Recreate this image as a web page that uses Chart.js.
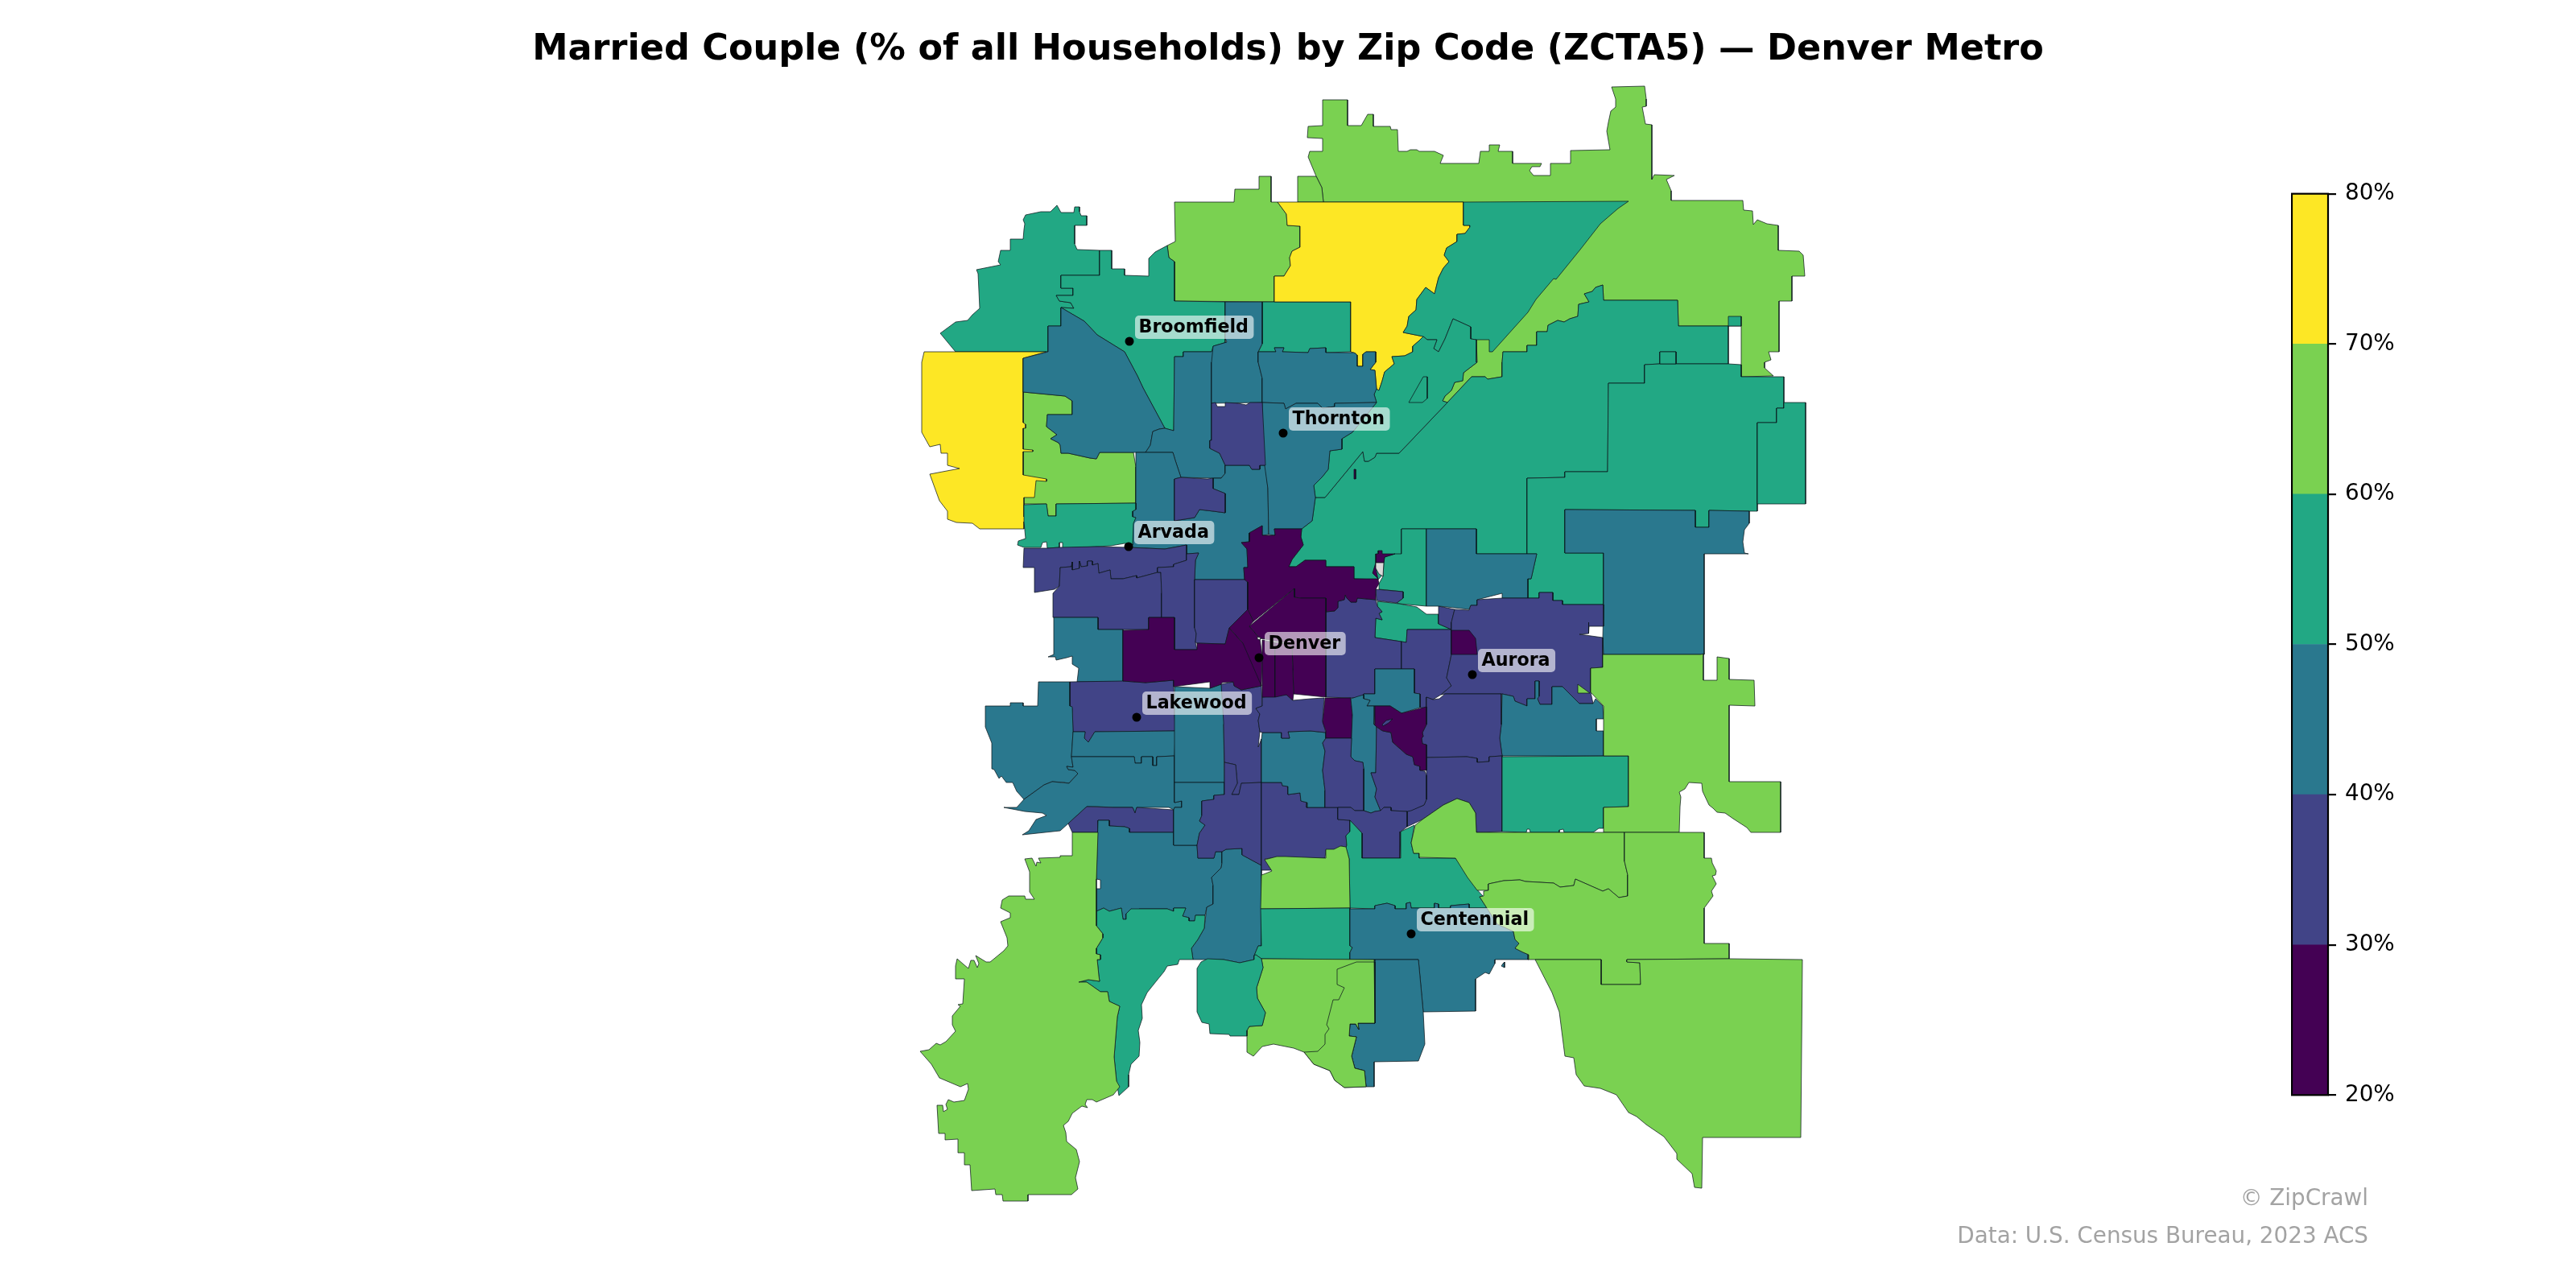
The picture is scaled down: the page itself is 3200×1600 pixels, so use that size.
<!DOCTYPE html>
<html><head><meta charset="utf-8">
<style>html,body{margin:0;padding:0;background:#fff;width:3200px;height:1600px;overflow:hidden}
canvas{position:absolute;display:block}</style>
<script src="https://cdn.jsdelivr.net/npm/chart.js@4"></script></head>
<body><canvas id="map" width="3200" height="1600" style="left:0;top:0;width:3200px;height:1600px"></canvas>
<canvas id="bar" width="200" height="1175" style="left:2846px;top:213px;width:200px;height:1175px"></canvas>
<script>
const titleText='Married Couple (% of all Households) by Zip Code (ZCTA5) — Denver Metro';
const creditLines=['© ZipCrawl','Data: U.S. Census Bureau, 2023 ACS'];
const binEdges=[20,30,40,50,60,70,80];
const binColors=['#440154','#414487','#2a788e','#22a884','#7ad151','#fde725'];
const cityNames=['Broomfield','Thornton','Arvada','Denver','Lakewood','Aurora','Centennial'];
const cityX=[1403,1594,1402,1564,1412,1829,1753];
const cityY=[424,538,679,817,891,838,1160];

/* zone outlines, in map units: x,y,x,y,... */
const northLime=[1644,251,1642,233,1635,219,1625,195,1627,188,1643,188,1643,172,1624,171,1625,157,1643,156,1643,124,1674,124,1674,156,1691,156,1699,142,1706,142,1706,157,1727,157,1728,161,1736,161,1737,188,1748,188,1752,186,1760,186,1763,188,1782,188,1793,193,1789,203,1837,203,1839,188,1850,188,1850,180,1863,180,1861,188,1879,188,1879,203,1915,203,1913,207,1903,207,1900,212,1905,218,1926,218,1926,203,1951,203,1951,187,2000,186,1996,163,1998,152,2001,138,2007,133,2007,123,2002,108,2043,107,2045,123,2045,132,2040,133,2044,154,2052,155,2052,223,2055,217,2080,218,2070,223,2076,237,2076,249,2165,249,2166,261,2177,262,2178,279,2183,273,2195,278,2209,280,2209,311,2235,312,2240,317,2242,343,2226,343,2226,374,2210,374,2210,437,2197,437,2200,447,2192,450,2192,457,2203,467,2163,468,2163,405,2147,405,2085,405,2084,373,1992,373,1991,354,1982,357,1978,362,1968,365,1974,375,1961,378,1960,393,1950,396,1943,400,1935,398,1923,404,1922,412,1909,412,1909,429,1897,429,1897,437,1880,437,1867,437,1866,450,1866,468,1848,471,1845,468,1828,468,1798,500,1792,498,1795,492,1803,485,1807,475,1817,473,1818,463,1835,450,1834,422,1830,270,1818,251];
const upperWestLime=[1459,251,1533,251,1534,235,1564,235,1564,219,1579,219,1579,251,1587,251,1598,266,1599,280,1615,281,1615,307,1605,312,1602,320,1603,330,1595,343,1583,343,1583,375,1459,374,1459,325,1452,320,1450,305,1460,300];
const smallLime=[1612,219,1635,219,1642,233,1644,251,1612,251];
const westLime=[1271,487,1323,492,1332,498,1332,515,1301,515,1300,530,1313,540,1305,545,1315,550,1317,553,1318,563,1327,563,1354,569,1362,570,1366,562,1408,562,1411,580,1411,625,1312,626,1312,641,1302,641,1300,626,1271,626];
const nwWest=[1168,414,1183,403,1187,400,1202,398,1208,391,1217,383,1215,340,1213,335,1243,329,1240,325,1243,311,1255,311,1255,297,1271,297,1272,285,1273,278,1271,273,1274,267,1293,263,1305,263,1313,255,1318,264,1334,264,1335,257,1341,257,1341,263,1343,268,1350,268,1350,280,1335,280,1335,303,1338,310,1366,311,1366,342,1318,342,1318,358,1333,358,1333,367,1312,367,1316,374,1330,376,1334,383,1318,382,1318,405,1302,405,1302,437,1187,437];
const nwEast=[1366,311,1381,311,1381,334,1397,334,1397,342,1427,343,1427,321,1435,313,1450,305,1452,320,1459,325,1459,374,1522,375,1522,437,1470,437,1470,443,1459,443,1458,535,1447,532,1420,482,1413,467,1397,437,1363,416,1347,399,1318,382,1334,383,1330,376,1316,374,1312,367,1333,367,1333,358,1318,358,1318,342,1366,342];
const eastStrip=[1568,375,1678,375,1678,437,1647,438,1647,432,1627,433,1625,438,1593,437,1595,432,1583,432,1585,437,1563,437,1568,427];
const westYellow=[1148,437,1300,437,1271,445,1271,525,1274,527,1274,532,1271,532,1271,558,1283,559,1283,561,1271,561,1271,590,1300,595,1300,598,1287,597,1285,618,1272,618,1272,642,1282,639,1272,648,1272,657,1217,657,1208,650,1188,649,1177,645,1177,635,1167,622,1155,589,1192,582,1177,578,1177,563,1169,563,1168,552,1155,555,1145,537,1145,450];
const mainYellow=[1587,251,1818,251,1818,280,1826,280,1826,282,1820,290,1810,291,1810,300,1797,308,1794,317,1800,325,1793,333,1787,345,1782,365,1771,357,1760,372,1759,385,1750,393,1748,405,1743,413,1768,418,1762,424,1755,430,1755,437,1745,442,1729,443,1732,452,1720,462,1717,473,1713,485,1710,483,1708,460,1702,459,1709,450,1709,437,1697,437,1693,440,1693,455,1686,455,1684,439,1678,437,1678,375,1583,375,1583,343,1595,343,1603,330,1602,320,1605,312,1615,307,1615,281,1599,280,1598,266];
const neWedge=[1818,251,2023,250,2010,259,1988,278,1963,310,1933,347,1930,346,1908,372,1898,388,1880,408,1854,437,1850,437,1850,422,1834,422,1827,421,1827,406,1805,396,1795,421,1787,437,1781,433,1785,422,1773,422,1768,418,1743,413,1748,405,1750,393,1759,385,1760,372,1771,357,1782,365,1787,345,1793,333,1800,325,1794,317,1797,308,1810,300,1810,291,1820,290,1826,282,1826,280,1818,280];
const commerceGreen=[1634,618,1632,603,1642,593,1650,583,1652,560,1667,558,1667,545,1680,537,1690,525,1710,500,1707,490,1709,483,1713,485,1717,473,1720,462,1732,452,1729,443,1745,442,1755,437,1755,430,1762,424,1768,418,1773,422,1785,422,1781,433,1787,437,1795,421,1805,396,1827,406,1827,421,1834,422,1834,450,1835,450,1818,463,1817,473,1807,475,1803,485,1795,492,1792,498,1798,500,1738,563,1710,563,1708,568,1700,573,1695,573,1693,561,1646,618];
const plainsGreen=[1646,618,1693,561,1695,573,1700,573,1708,568,1710,563,1738,563,1798,500,1828,468,1845,468,1848,471,1866,468,1866,450,1867,437,1897,437,1897,429,1909,429,1909,412,1922,412,1923,404,1935,398,1943,400,1950,396,1960,393,1961,378,1974,375,1968,365,1978,362,1982,357,1991,354,1992,373,2084,373,2085,405,2147,405,2147,452,2082,452,2082,437,2062,437,2062,452,2043,453,2043,476,1998,476,1997,586,1944,586,1944,593,1897,594,1897,688,1834,688,1834,657,1741,657,1741,688,1712,720,1682,719,1682,704,1647,704,1647,696,1621,696,1610,704,1601,704,1605,695,1619,677,1616,667,1617,657,1630,647,1634,618];
const farEastGreen=[1998,476,2043,476,2043,453,2062,452,2082,452,2147,452,2163,453,2163,468,2216,468,2216,507,2207,507,2207,525,2183,525,2183,635,2173,635,2123,634,2123,655,2106,655,2106,634,1944,633,1944,687,1992,687,1992,751,1941,751,1941,746,1929,746,1929,736,1912,736,1912,743,1898,743,1898,719,1902,719,1909,688,1897,688,1897,594,1944,593,1944,586,1997,586];
const rimGreen=[2216,500,2243,500,2243,626,2183,626,2183,525,2207,525,2207,507,2216,507];
const squareGreen=[2147,393,2163,393,2163,405,2147,405];
const boxGreen=[2062,437,2082,437,2082,452,2062,452];
const isletGreen=[1750,500,1768,468,1773,468,1773,495,1767,500];
const midEastGreen=[1741,657,1772,657,1772,753,1738,750,1735,749,1743,743,1743,735,1713,732,1713,725,1718,716,1719,699,1720,692,1733,688,1741,688];
const parkGreen=[1711,747,1738,750,1760,754,1772,763,1787,763,1787,775,1803,782,1748,782,1747,798,1708,792,1709,768,1717,770,1713,762,1717,760,1711,753];
const westBlue=[1271,445,1302,437,1302,405,1318,405,1318,382,1347,399,1363,416,1397,437,1413,467,1420,482,1447,532,1440,533,1432,536,1429,553,1423,562,1366,562,1362,570,1354,569,1327,563,1318,563,1317,553,1315,550,1305,545,1313,540,1300,530,1301,515,1332,515,1332,498,1323,492,1271,487];
const nwBlueA=[1459,443,1470,443,1470,437,1505,437,1507,430,1524,425,1505,450,1505,547,1503,547,1503,557,1515,563,1522,578,1522,588,1517,594,1507,594,1467,593,1460,572,1457,562,1423,562,1429,553,1432,536,1440,533,1447,532,1458,535];
const arvadaEastBlue=[1411,562,1457,562,1460,572,1467,593,1459,595,1459,647,1484,643,1490,633,1507,635,1522,637,1522,613,1507,607,1507,594,1517,594,1522,588,1522,578,1552,578,1555,583,1565,583,1565,578,1572,578,1575,607,1576,664,1568,665,1568,653,1552,662,1552,673,1542,674,1549,682,1550,705,1545,705,1546,720,1484,720,1485,696,1489,687,1474,688,1474,677,1447,682,1402,680,1407,677,1407,650,1411,643,1407,642,1407,635,1411,633];
const nwBlueB=[1522,375,1568,375,1568,427,1563,437,1563,450,1568,470,1568,500,1505,501,1505,450,1507,430,1524,425,1522,420];
const thorntonNorth=[1563,437,1585,437,1583,432,1595,432,1593,437,1625,438,1627,433,1647,432,1647,438,1682,438,1686,441,1686,455,1693,455,1693,440,1697,437,1709,437,1709,450,1702,459,1708,460,1710,483,1707,490,1710,500,1658,501,1658,505,1643,507,1637,501,1610,501,1597,508,1595,501,1568,500,1568,470,1563,450];
const thorntonSouth=[1568,500,1595,501,1597,508,1610,501,1637,501,1643,507,1658,505,1658,501,1710,500,1690,525,1680,537,1667,545,1667,558,1652,560,1650,583,1642,593,1632,603,1634,618,1630,647,1617,657,1583,657,1584,665,1576,664,1575,607,1568,557];
const thorntonPurple=[1505,501,1510,500,1512,505,1522,505,1522,500,1538,501,1548,503,1553,500,1568,500,1572,578,1565,578,1565,583,1555,583,1552,578,1522,578,1515,563,1503,557,1503,547,1505,547];
const westminsterPurple=[1459,595,1467,593,1500,595,1507,594,1507,607,1522,613,1522,637,1507,635,1490,633,1484,643,1459,647];
const arvadaGreen=[1272,627,1300,626,1302,641,1312,641,1312,626,1411,625,1411,633,1407,635,1407,642,1411,643,1408,650,1407,677,1397,675,1380,678,1363,679,1320,681,1320,674,1316,674,1316,680,1301,681,1300,673,1295,674,1293,680,1272,680,1264,677,1265,672,1274,669,1272,648];
const wheatRidgeA=[1272,681,1301,681,1316,680,1363,679,1402,680,1447,682,1474,677,1474,696,1458,701,1458,704,1438,705,1438,711,1412,718,1412,715,1395,719,1380,719,1379,708,1365,712,1364,700,1357,702,1357,697,1351,697,1351,703,1343,704,1341,697,1341,706,1332,708,1332,698,1331,704,1317,705,1316,728,1310,732,1285,736,1285,705,1271,705];
const wheatRidgeB=[1317,705,1331,704,1332,698,1332,708,1341,706,1341,697,1343,704,1351,703,1351,697,1357,697,1357,702,1364,700,1365,712,1379,708,1380,719,1395,719,1412,715,1412,718,1438,711,1442,711,1443,737,1443,767,1427,767,1427,782,1364,782,1364,767,1308,767,1308,737,1316,728];
const edgewaterPurple=[1438,711,1438,705,1458,704,1458,701,1474,696,1474,688,1489,687,1485,696,1484,720,1484,780,1486,787,1485,798,1487,807,1459,807,1459,767,1443,767,1443,737,1442,711];
const highlandsPurple=[1484,720,1546,720,1550,723,1550,757,1527,780,1522,800,1487,799,1485,798,1486,787,1484,780];
const northDark=[1568,653,1552,662,1552,673,1542,674,1549,682,1550,705,1545,705,1546,720,1550,723,1550,757,1557,772,1608,731,1608,742,1616,743,1647,743,1647,760,1658,759,1662,755,1662,747,1670,745,1671,739,1673,743,1678,748,1685,748,1686,743,1709,745,1709,732,1713,725,1712,720,1709,706,1709,699,1719,699,1720,692,1733,688,1717,688,1717,684,1712,684,1712,688,1709,688,1709,699,1705,712,1712,719,1682,719,1682,704,1647,704,1647,696,1621,696,1610,704,1601,704,1605,695,1619,677,1616,667,1617,657,1583,657,1584,665,1568,665];
const noDataNotch=[1709,699,1719,699,1718,716,1713,713,1709,706];
const westDark=[1395,783,1427,782,1427,767,1459,767,1459,807,1487,807,1487,799,1522,800,1527,780,1544,799,1560,815,1567,852,1542,857,1533,852,1532,847,1518,848,1517,850,1503,855,1503,847,1458,853,1458,845,1423,848,1395,846];
const triangleDark=[1527,780,1550,757,1557,772,1552,778,1565,793,1568,815,1567,852,1544,799];
const centerDark=[1552,778,1608,731,1608,742,1616,743,1647,743,1647,866,1607,862,1605,800,1565,793];
const stripDarkA=[1568,795,1584,798,1584,866,1568,866];
const stripDarkB=[1584,798,1605,800,1607,862,1606,870,1598,863,1584,866];
const capitolPurple=[1647,760,1658,759,1662,755,1662,747,1670,745,1671,739,1673,743,1678,748,1685,748,1686,743,1709,745,1711,753,1717,760,1713,762,1717,770,1709,768,1708,792,1741,797,1741,831,1708,831,1708,862,1694,862,1694,867,1678,867,1647,866];
const lowryPurple=[1741,797,1747,798,1748,782,1803,782,1803,813,1797,842,1803,852,1790,863,1780,869,1772,866,1772,880,1764,879,1764,862,1757,861,1757,831,1741,831];
const smallPurple=[1709,732,1743,735,1743,743,1735,749,1710,746];
const stapletonPurple=[1787,753,1807,757,1803,773,1803,782,1787,775];
const auroraPurple=[1803,773,1807,757,1825,758,1827,752,1835,752,1835,745,1866,743,1898,743,1912,743,1912,736,1929,736,1929,746,1941,746,1941,751,1992,751,1992,778,1974,778,1974,773,1973,787,1962,788,1991,792,1991,829,1976,830,1976,860,1979,874,1962,874,1941,853,1928,853,1928,875,1913,875,1910,868,1912,846,1907,846,1907,868,1897,868,1897,877,1882,871,1880,865,1866,862,1795,862,1790,863,1803,852,1797,842,1803,813,1803,782];
const auroraDark=[1803,783,1825,783,1833,793,1835,813,1803,813];
const auroraBlue=[1772,657,1834,657,1834,688,1909,688,1902,719,1898,719,1898,743,1866,743,1866,737,1835,745,1835,752,1827,752,1825,757,1788,753,1772,753];
const farAuroraBlue=[1944,633,2106,634,2106,655,2123,655,2123,634,2173,635,2173,650,2167,658,2165,673,2167,687,2172,688,2117,688,2117,813,1992,813,1991,792,1992,751,1992,687,1944,687];
const southAuroraBlue=[1866,862,1880,865,1882,871,1897,877,1897,868,1907,868,1907,846,1912,846,1912,865,1910,868,1913,875,1928,875,1928,853,1941,853,1962,874,1979,874,1982,868,1991,877,1992,893,1983,893,1983,908,1992,908,1992,939,1866,939,1863,917,1865,900];
const eastBlockGreen=[1866,940,2023,939,2023,1002,1992,1003,1992,1029,1986,1029,1979,1034,1943,1034,1942,1030,1937,1031,1937,1034,1901,1034,1900,1030,1897,1030,1896,1034,1866,1033];
const eastLime=[1991,813,2113,813,2116,812,2116,845,2133,845,2133,816,2148,818,2148,844,2179,845,2180,877,2148,876,2148,971,2212,971,2212,1034,2175,1034,2170,1028,2153,1017,2143,1010,2133,1009,2128,1004,2123,1000,2115,983,2114,973,2098,972,2093,980,2086,984,2088,990,2087,1002,2086,1034,1992,1034,1992,1003,2023,1002,2023,939,1992,939,1992,877,1976,860,1976,830,1991,829];
const limeWedge=[1960,850,1975,861,1960,861];
const lakewoodPurple=[1329,847,1395,846,1423,848,1458,845,1458,853,1459,885,1460,908,1360,909,1352,922,1347,917,1348,909,1333,909,1332,880,1329,877];
const golden=[1309,767,1364,767,1364,782,1395,782,1395,847,1338,847,1340,830,1332,825,1332,815,1325,817,1312,820,1311,816,1302,816,1309,813];
const swBlue=[1290,847,1329,847,1329,877,1332,878,1333,909,1331,940,1333,953,1325,952,1327,956,1335,957,1339,961,1328,973,1322,972,1307,971,1297,975,1272,993,1263,983,1258,972,1250,972,1244,964,1241,967,1235,956,1232,955,1232,923,1224,903,1224,877,1255,877,1255,873,1271,873,1271,877,1289,877];
const stripBlueA=[1333,909,1348,909,1347,917,1352,922,1360,909,1460,908,1459,939,1437,940,1437,951,1432,951,1432,940,1418,940,1418,948,1410,948,1409,940,1331,940];
const stripBlueB=[1331,940,1409,940,1410,948,1418,948,1418,940,1432,940,1432,951,1437,951,1437,940,1459,939,1459,997,1468,995,1468,1003,1459,1003,1458,1006,1452,1003,1412,1003,1410,1010,1407,1003,1383,1003,1363,1002,1350,1002,1327,1023,1317,1032,1270,1037,1278,1032,1287,1018,1300,1013,1295,1010,1273,1008,1247,1003,1263,1003,1272,993,1297,975,1307,971,1328,973,1339,961,1335,957,1327,956,1325,952,1333,953];
const bandPurple=[1350,1002,1383,1003,1407,1003,1410,1010,1412,1003,1458,1006,1458,1034,1403,1034,1403,1029,1397,1027,1378,1026,1378,1019,1364,1019,1364,1034,1332,1034,1327,1023];
const ridgeBlue=[1364,1019,1378,1019,1378,1026,1397,1027,1403,1029,1403,1034,1458,1034,1458,1050,1487,1050,1488,1066,1508,1066,1510,1058,1518,1058,1518,1072,1517,1078,1505,1090,1507,1100,1507,1123,1499,1127,1497,1137,1485,1137,1484,1144,1477,1144,1477,1140,1469,1138,1473,1128,1458,1128,1458,1132,1450,1129,1415,1129,1413,1133,1405,1129,1399,1135,1399,1142,1395,1142,1393,1128,1378,1132,1371,1128,1362,1132,1362,1104,1367,1104,1367,1093,1362,1092];
const littletonBlue=[1499,1127,1507,1123,1507,1100,1505,1090,1517,1078,1518,1072,1518,1058,1523,1055,1543,1054,1543,1062,1567,1075,1567,1175,1563,1175,1558,1187,1558,1192,1540,1196,1520,1192,1482,1192,1480,1178,1488,1167,1496,1153];
const upperEastBlue=[1459,853,1503,855,1517,850,1520,860,1522,897,1520,900,1521,972,1459,972];
const lowerEastBlue=[1459,972,1521,972,1521,987,1508,988,1508,993,1493,995,1493,1013,1490,1020,1497,1025,1490,1035,1487,1050,1458,1050,1458,1006,1459,1003,1468,1003,1468,995,1459,997];
const columnPurple=[1517,850,1532,847,1533,852,1542,857,1567,852,1568,877,1560,880,1565,887,1563,895,1565,909,1563,928,1567,918,1567,972,1542,973,1539,987,1530,987,1537,973,1535,950,1521,947,1520,897];
const lowerColumnPurple=[1521,947,1535,950,1537,973,1530,987,1539,987,1542,973,1567,972,1567,1075,1543,1062,1543,1054,1523,1055,1518,1058,1510,1058,1508,1066,1488,1066,1487,1050,1490,1035,1497,1025,1490,1020,1493,1013,1493,995,1508,993,1508,988,1521,987];
const englewoodPurple=[1567,972,1592,972,1593,976,1600,977,1600,987,1615,985,1616,995,1624,997,1623,1003,1662,1003,1662,1018,1677,1019,1677,1033,1672,1038,1673,1050,1672,1053,1667,1051,1657,1056,1647,1056,1646,1066,1597,1066,1586,1065,1571,1067,1580,1081,1567,1081,1567,1075];
const centralBlue=[1568,910,1592,910,1592,917,1602,917,1600,909,1628,908,1647,910,1647,917,1643,923,1646,933,1643,957,1646,982,1646,1003,1623,1003,1624,997,1616,995,1615,985,1600,987,1600,977,1593,976,1592,972,1567,972,1567,918];
const bandPurpleB=[1568,866,1598,863,1606,870,1628,868,1645,867,1643,895,1647,910,1628,908,1600,909,1602,917,1592,917,1592,910,1568,910,1565,909,1563,895,1565,887,1560,880,1568,877];
const blockDark=[1646,867,1678,867,1680,888,1679,917,1647,917,1647,908,1643,897];
const slimBlue=[1678,868,1687,865,1694,863,1694,868,1702,870,1698,877,1708,877,1707,900,1710,903,1709,960,1703,960,1710,980,1708,990,1715,1007,1708,1008,1703,1010,1694,1007,1694,955,1693,947,1683,945,1678,940,1680,888];
const slimPurple=[1647,917,1679,917,1678,940,1683,945,1693,947,1694,955,1694,1007,1683,1007,1678,1003,1662,1003,1646,1003,1646,982,1643,957,1646,933,1643,923];
const boxBlue=[1708,831,1757,831,1757,861,1764,862,1764,879,1741,886,1727,877,1708,877,1698,877,1702,870,1694,868,1694,862,1708,862];
const centralDark=[1708,877,1727,877,1741,886,1772,878,1772,900,1767,910,1768,915,1766,917,1767,924,1772,925,1772,957,1764,957,1764,952,1757,950,1755,940,1747,937,1730,922,1728,910,1718,908,1716,907,1709,902,1707,900];
const darkIslet=[1717,900,1722,895,1730,893,1725,898,1718,902];
const lowerCenterPurple=[1710,903,1716,907,1718,908,1728,910,1730,922,1747,937,1755,940,1757,950,1764,952,1764,957,1770,958,1772,963,1772,993,1769,1000,1753,1007,1748,1008,1728,1007,1728,1003,1719,1003,1715,1007,1708,990,1710,980,1703,960,1709,960];
const cherryPurple=[1772,941,1822,940,1835,942,1835,947,1850,946,1850,940,1866,939,1866,1033,1834,1034,1833,1010,1825,997,1810,992,1793,1000,1767,1018,1748,1027,1748,1008,1769,1000,1772,993];
const parkerPurple=[1772,866,1780,869,1788,868,1795,862,1865,862,1865,900,1863,917,1866,939,1850,940,1850,946,1835,947,1835,942,1822,940,1772,941,1772,925,1767,924,1766,917,1768,915,1767,910,1772,900];
const gatePurple=[1662,1003,1678,1003,1683,1007,1694,1007,1703,1010,1708,1008,1715,1007,1719,1003,1728,1003,1728,1007,1748,1008,1748,1027,1740,1033,1739,1066,1692,1066,1692,1035,1677,1019,1662,1018];
const southGreen=[1677,1019,1692,1035,1692,1066,1739,1066,1740,1033,1757,1025,1753,1047,1756,1060,1763,1060,1763,1066,1808,1066,1820,1080,1832,1098,1833,1103,1842,1113,1838,1114,1847,1128,1825,1128,1825,1123,1802,1125,1802,1128,1787,1128,1787,1123,1782,1122,1782,1128,1753,1128,1752,1121,1747,1122,1747,1129,1733,1129,1733,1125,1723,1122,1708,1125,1708,1129,1677,1128,1676,1067,1672,1053,1673,1050,1672,1038,1677,1033];
const centerLime=[1571,1068,1586,1064,1597,1064,1647,1066,1647,1055,1657,1055,1665,1051,1672,1052,1676,1067,1677,1128,1566,1129,1567,1087,1580,1082];
const southBlockGreen=[1566,1129,1677,1128,1677,1175,1680,1177,1677,1183,1677,1192,1567,1191,1560,1186,1558,1187,1563,1175,1567,1175];
const centennialBlue=[1677,1129,1708,1129,1708,1125,1723,1122,1733,1125,1733,1129,1747,1129,1747,1122,1752,1121,1753,1128,1782,1128,1782,1122,1787,1123,1787,1128,1802,1128,1802,1125,1825,1123,1825,1128,1842,1128,1847,1128,1860,1148,1880,1157,1882,1167,1887,1172,1882,1178,1892,1183,1899,1186,1898,1192,1857,1192,1857,1197,1850,1210,1845,1208,1833,1216,1833,1256,1768,1257,1762,1192,1677,1192,1677,1183,1680,1177,1677,1175];
const blueSliver=[1867,1197,1869,1195,1869,1202,1865,1200];
const southBlue=[1707,1192,1762,1192,1768,1257,1770,1297,1762,1318,1707,1319,1707,1350,1697,1350,1695,1330,1683,1327,1679,1312,1685,1288,1676,1287,1677,1272,1684,1272,1688,1279,1687,1271,1708,1271];
const southLime=[1567,1191,1707,1192,1708,1271,1687,1271,1688,1279,1684,1272,1677,1272,1676,1287,1685,1288,1679,1312,1683,1327,1695,1330,1697,1350,1670,1351,1658,1342,1652,1330,1632,1322,1620,1307,1607,1302,1582,1297,1568,1300,1557,1312,1549,1307,1549,1280,1552,1275,1568,1274,1572,1258,1562,1240,1561,1227,1569,1202];
const southLimeEast=[1661,1204,1685,1195,1707,1195,1708,1271,1687,1271,1688,1279,1684,1272,1677,1272,1676,1287,1685,1288,1679,1312,1683,1327,1695,1330,1697,1350,1670,1351,1658,1342,1652,1330,1632,1322,1620,1307,1637,1306,1646,1297,1646,1285,1651,1278,1648,1273,1656,1242,1663,1242,1670,1227,1661,1223];
const canyonGreen=[1362,1132,1371,1128,1378,1132,1393,1128,1395,1142,1399,1142,1399,1135,1405,1129,1415,1129,1450,1129,1458,1132,1458,1128,1473,1128,1469,1138,1477,1140,1477,1144,1484,1144,1485,1137,1497,1137,1496,1153,1488,1167,1480,1178,1482,1192,1465,1192,1463,1198,1450,1200,1446,1207,1437,1218,1425,1233,1418,1248,1419,1265,1414,1280,1416,1295,1415,1312,1405,1322,1402,1335,1402,1350,1390,1361,1388,1350,1387,1343,1384,1313,1388,1263,1391,1250,1378,1244,1376,1232,1367,1232,1350,1220,1340,1220,1352,1217,1366,1219,1365,1212,1363,1192,1367,1192,1367,1186,1362,1185,1362,1178,1370,1165,1370,1160,1362,1150];
const mountainLime=[1332,1034,1364,1034,1362,1092,1362,1150,1370,1160,1370,1165,1362,1178,1362,1185,1367,1186,1367,1192,1363,1192,1365,1212,1366,1219,1352,1217,1340,1220,1350,1220,1367,1232,1376,1232,1378,1244,1391,1250,1388,1263,1384,1313,1387,1343,1391,1350,1383,1360,1362,1369,1357,1366,1350,1366,1348,1372,1351,1376,1344,1374,1332,1383,1327,1393,1321,1398,1324,1407,1325,1418,1337,1428,1341,1443,1336,1463,1339,1477,1331,1484,1277,1484,1277,1492,1246,1492,1245,1484,1237,1484,1236,1477,1207,1479,1205,1447,1198,1447,1198,1432,1190,1432,1190,1415,1174,1416,1174,1408,1166,1408,1164,1373,1171,1373,1172,1381,1177,1378,1175,1372,1178,1366,1185,1369,1198,1367,1203,1353,1202,1346,1193,1350,1167,1339,1157,1322,1143,1306,1154,1304,1163,1296,1168,1298,1175,1294,1187,1281,1183,1273,1183,1262,1193,1250,1190,1248,1196,1247,1198,1216,1187,1216,1187,1200,1189,1191,1197,1198,1203,1203,1206,1193,1210,1193,1214,1202,1216,1197,1212,1187,1225,1195,1230,1195,1247,1181,1252,1175,1251,1165,1247,1155,1243,1145,1255,1140,1255,1134,1243,1128,1245,1118,1253,1113,1273,1113,1274,1117,1285,1117,1279,1108,1279,1083,1273,1067,1282,1066,1287,1076,1288,1071,1293,1072,1290,1066,1317,1065,1317,1063,1332,1063];
const northSouthLime=[1758,1025,1767,1018,1793,1000,1810,992,1825,997,1833,1010,1834,1034,2018,1034,2018,1070,2022,1087,2022,1113,2011,1115,1998,1104,1991,1107,1957,1092,1955,1100,1938,1102,1930,1097,1895,1095,1888,1093,1868,1094,1849,1098,1849,1106,1843,1106,1835,1106,1823,1090,1808,1066,1763,1065,1763,1060,1756,1060,1753,1047];
const douglasLime=[2018,1034,2117,1034,2117,1066,2126,1066,2127,1072,2132,1082,2131,1087,2127,1088,2132,1098,2126,1107,2128,1113,2117,1128,2117,1172,2148,1172,2148,1191,2021,1192,2021,1195,2037,1196,2038,1223,1989,1223,1989,1192,1898,1192,1899,1186,1892,1183,1882,1178,1887,1172,1882,1167,1880,1157,1860,1148,1847,1128,1838,1114,1843,1113,1843,1107,1849,1106,1849,1098,1868,1094,1888,1093,1895,1095,1930,1097,1938,1102,1955,1100,1957,1092,1991,1107,1998,1104,2011,1115,2022,1113,2022,1087,2018,1070];
const southEastLime=[1907,1192,1989,1192,1989,1223,2038,1223,2037,1196,2021,1195,2021,1192,2148,1191,2239,1192,2237,1413,2115,1413,2114,1476,2105,1475,2102,1458,2083,1440,2083,1433,2067,1412,2045,1397,2033,1387,2023,1382,2008,1360,1988,1352,1968,1349,1958,1335,1955,1314,1944,1312,1937,1257,1928,1233];
const chatfieldGreen=[1487,1203,1492,1195,1500,1191,1520,1192,1540,1196,1558,1192,1558,1187,1560,1186,1567,1191,1569,1202,1561,1227,1562,1240,1572,1258,1568,1274,1552,1275,1549,1280,1549,1287,1528,1287,1527,1285,1503,1284,1502,1272,1493,1270,1487,1257];
const darkDash=[1682,583,1684,583,1684,595,1682,595];
const paleDot=[1562,791,1566,792,1565,795,1562,794];

/* bottom to top, with the value band each zone falls in */
const zoneRings=[northLime,upperWestLime,smallLime,westLime,nwWest,nwEast,eastStrip,westYellow,mainYellow,plainsGreen,neWedge,commerceGreen,isletGreen,farEastGreen,rimGreen,squareGreen,boxGreen,midEastGreen,parkGreen,westBlue,nwBlueA,arvadaEastBlue,nwBlueB,thorntonNorth,thorntonSouth,thorntonPurple,westminsterPurple,arvadaGreen,wheatRidgeA,wheatRidgeB,edgewaterPurple,highlandsPurple,golden,lakewoodPurple,swBlue,stripBlueA,stripBlueB,bandPurple,ridgeBlue,littletonBlue,upperEastBlue,lowerEastBlue,columnPurple,lowerColumnPurple,englewoodPurple,centralBlue,bandPurpleB,capitolPurple,lowryPurple,smallPurple,stapletonPurple,auroraBlue,farAuroraBlue,auroraPurple,southAuroraBlue,parkerPurple,cherryPurple,eastBlockGreen,eastLime,limeWedge,northDark,noDataNotch,westDark,triangleDark,centerDark,stripDarkA,stripDarkB,auroraDark,boxBlue,blockDark,slimBlue,slimPurple,lowerCenterPurple,centralDark,darkIslet,gatePurple,southGreen,centerLime,southBlockGreen,centennialBlue,blueSliver,southBlue,southLime,southLimeEast,canyonGreen,mountainLime,northSouthLime,douglasLime,southEastLime,chatfieldGreen,darkDash,paleDot];
const zoneValues=[65,65,65,65,55,55,55,75,75,55,55,55,55,55,55,55,55,55,55,45,45,45,45,45,45,35,35,55,35,35,35,35,45,35,45,45,45,35,45,45,45,45,35,35,35,45,35,35,35,35,35,45,45,35,45,35,35,55,65,65,25,null,25,25,25,25,25,25,45,25,45,35,35,25,35,35,55,65,55,45,45,45,65,65,55,65,65,65,65,55,25,null];

function colorFor(v){
  if(v===null) return '#d9d9d9';
  for(let i=0;i<binColors.length;i++) if(v<binEdges[i+1]) return binColors[i];
  return binColors[binColors.length-1];
}
function toPoints(r){const p=[];for(let i=0;i<r.length;i+=2)p.push({x:r[i],y:r[i+1]});p.push({x:r[0],y:r[1]});return p;}

const zoneSets=zoneRings.map((r,i)=>({
  type:'scatter',data:toPoints(r),showLine:true,fill:'shape',tension:0,
  backgroundColor:colorFor(zoneValues[i]),borderColor:'rgba(10,20,25,0.72)',borderWidth:1,
  pointRadius:0,pointHoverRadius:0,order:-i,borderJoinStyle:'round'
}));
const citySet={type:'scatter',data:cityNames.map((n,i)=>({x:cityX[i],y:cityY[i]})),showLine:false,
  backgroundColor:'#000',borderColor:'#000',pointRadius:5.5,borderWidth:0,order:-9999};

const cityLabels={id:'cityLabels',afterDatasetsDraw(c){
  const {ctx,scales:{x,y}}=c;ctx.save();
  ctx.font='bold 22.2px "DejaVu Sans"';ctx.textBaseline='middle';ctx.textAlign='left';
  cityNames.forEach((n,i)=>{
    const px=x.getPixelForValue(cityX[i]),py=y.getPixelForValue(cityY[i]);
    const w=ctx.measureText(n).width,l=px+7,t=py-32;
    ctx.fillStyle='rgba(255,255,255,0.6)';ctx.beginPath();ctx.roundRect(l,t,w+11,29,5);ctx.fill();
    ctx.fillStyle='#000';ctx.fillText(n,l+4.5,t+15.5);
  });
  ctx.restore();
}};
const credits={id:'credits',afterDraw(c){
  const {ctx}=c;ctx.save();ctx.font='27.8px "DejaVu Sans"';ctx.fillStyle='#a3a3a3';ctx.textAlign='right';ctx.textBaseline='middle';
  ctx.fillText(creditLines[0],2942,1490);ctx.fillText(creditLines[1],2942,1537);ctx.restore();
}};

new Chart(document.getElementById('map'),{
  data:{datasets:[...zoneSets,citySet]},
  plugins:[cityLabels,credits],
  options:{responsive:false,devicePixelRatio:1,animation:false,
    layout:{padding:0,autoPadding:false},
    events:[],
    plugins:{legend:{display:false},tooltip:{enabled:false},
      title:{display:true,text:titleText,color:'#000',font:{family:'"DejaVu Sans"',size:44.5,weight:'bold',lineHeight:1.2},padding:{top:35.4,bottom:11.2}}},
    scales:{
      x:{type:'linear',display:false,min:0,max:3200},
      y:{type:'linear',display:false,min:100,max:1600,reverse:true}
    }}
});

const binLabels=binColors.map((c,i)=>binEdges[i]+'-'+binEdges[i+1]);
const barFrame={id:'barFrame',afterDatasetsDraw(c){
  const {ctx,chartArea:a}=c;ctx.save();ctx.strokeStyle='#000';ctx.lineWidth=2.2;ctx.strokeRect(a.left+1,a.top,a.right-a.left-1,a.bottom-a.top);ctx.restore();
}};
new Chart(document.getElementById('bar'),{
  type:'bar',plugins:[barFrame],
  data:{labels:['share'],datasets:binColors.map((c,i)=>({label:binLabels[i],data:[[binEdges[i],binEdges[i+1]]],backgroundColor:c,grouped:false,barPercentage:1,categoryPercentage:1,borderWidth:0}))},
  options:{responsive:false,devicePixelRatio:1,animation:false,events:[],
    layout:{autoPadding:false,padding:{top:20,bottom:20,left:0,right:0}},
    plugins:{legend:{display:false},tooltip:{enabled:false}},
    scales:{
      x:{display:false,offset:true,grid:{display:false}},
      y:{position:'right',min:20,max:80,afterFit(s){s.width=154;},
        border:{display:false},
        grid:{drawOnChartArea:false,drawTicks:true,tickLength:10,color:'#000',lineWidth:2.2},
        ticks:{stepSize:10,padding:11,color:'#000',font:{family:'"DejaVu Sans"',size:27.8},callback:v=>v+'%'}}
    }}
});
</script></body></html>
